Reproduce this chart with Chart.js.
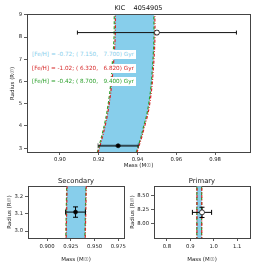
<!DOCTYPE html>
<html>
<head>
<meta charset="utf-8">
<script src="https://cdn.jsdelivr.net/npm/chart.js@4.4.0/dist/chart.umd.min.js"></script>
<style>
body { margin: 0; background: #fff; width: 258px; height: 263px; overflow: hidden; position: relative; font-family: "DejaVu Sans"; }
canvas { position: absolute; }
#main { left: 0; top: 0; }
#secondary { left: 0; top: 172px; }
#primary { left: 129px; top: 172px; }
.feh { position: absolute; left: 30px; height: 9px; background: #fff; font-size: 5.7px; line-height: 9px; padding: 0 2px; white-space: pre; }
</style>
</head>
<body>
<canvas id="main" width="258" height="172"></canvas>
<canvas id="secondary" width="129" height="91"></canvas>
<canvas id="primary" width="129" height="91"></canvas>
<script>
// values
var starTitle = 'KIC    4054905';

// isochrone edges: mass (Msun) at each radius (Rsun)
var isoRadius = [2.8, 3.0, 3.5, 4.0, 4.5, 5.0, 5.5, 6.0, 6.5, 7.0, 7.5, 8.0, 8.5, 9.0];
var blueLeft   = [0.9194, 0.9201, 0.9217, 0.9231, 0.9243, 0.9252, 0.9260, 0.9266, 0.9271, 0.9276, 0.9279, 0.9282, 0.9283, 0.9283];
var blueRight  = [0.9395, 0.9402, 0.9420, 0.9434, 0.9450, 0.9460, 0.9468, 0.9474, 0.9478, 0.9482, 0.9485, 0.9487, 0.9487, 0.9486];
var redLeft    = [0.9196, 0.9203, 0.9219, 0.9233, 0.9245, 0.9254, 0.9262, 0.9268, 0.9273, 0.9278, 0.9282, 0.9285, 0.9286, 0.9286];
var redRight   = [0.9397, 0.9404, 0.9422, 0.9437, 0.9453, 0.9463, 0.9471, 0.9477, 0.9481, 0.9485, 0.9488, 0.9490, 0.9490, 0.9489];
var greenLeft  = [0.9192, 0.9199, 0.9214, 0.9228, 0.9240, 0.9249, 0.9257, 0.9263, 0.9268, 0.9271, 0.9276, 0.9279, 0.9280, 0.9280];
var greenRight = [0.9393, 0.9400, 0.9418, 0.9432, 0.9448, 0.9458, 0.9466, 0.9472, 0.9476, 0.9480, 0.9483, 0.9485, 0.9485, 0.9484];

// legend text of the three isochrone sets
var fehValues = [-0.72, -1.02, -0.42];
var ageLow    = [7.150, 6.320, 8.700];
var ageHigh   = [7.700, 6.820, 9.400];
var isoColors = ['#87ceeb', '#d62728', '#2ca02c'];

// the two stars: [primary, secondary]
var starNames     = ['Primary', 'Secondary'];
var starMass      = [0.95, 0.93];
var starMassErr   = [0.041, 0.0104];
var starRadius    = [8.2, 3.11];
var starRadiusErr = [0.09, 0.03];

// ticks
var mainXTicks = [0.90, 0.92, 0.94, 0.96, 0.98];
var mainYTicks = [3, 4, 5, 6, 7, 8, 9];
var secXTicks  = [0.900, 0.925, 0.950, 0.975];
var secYTicks  = [3.0, 3.1, 3.2];
var priXTicks  = [0.8, 0.9, 1.0, 1.1];
var priYTicks  = [8.00, 8.25, 8.50];

Chart.defaults.font.family = 'DejaVu Sans';
Chart.defaults.color = '#222';

var spineColor = '#444';

function toPoints(masses) {
    return isoRadius.map(function (r, i) { return {x: masses[i], y: r}; });
}

function isochroneDatasets() {
    var poly = toPoints(blueLeft);
    for (var i = isoRadius.length - 1; i >= 0; i--) {
        poly.push({x: blueRight[i], y: isoRadius[i]});
    }
    var ds = [{
        data: poly, showLine: true, fill: 'shape', backgroundColor: isoColors[0],
        borderColor: 'rgba(0,0,0,0)', borderWidth: 0, pointRadius: 0, order: 6
    }];
    var curves = [[greenLeft, isoColors[2], [3, 2]], [greenRight, isoColors[2], [3, 2]],
                  [redLeft, isoColors[1], [3, 1.5, 1, 1.5]], [redRight, isoColors[1], [3, 1.5, 1, 1.5]]];
    curves.forEach(function (c, k) {
        ds.push({
            data: toPoints(c[0]), showLine: true, fill: false, borderColor: c[1],
            borderWidth: 1.2, borderDash: c[2], pointRadius: 0, order: k < 2 ? 5 : 4
        });
    });
    return ds;
}

function errorBars(i, st) {
    var m = starMass[i], r = starRadius[i];
    var common = {
        showLine: true, fill: false, borderColor: st.color, borderWidth: st.width,
        pointStyle: 'line', pointRadius: st.cap, pointBorderColor: st.capColor,
        pointBorderWidth: 1, order: 2
    };
    return [
        Object.assign({data: [{x: m - starMassErr[i], y: r}, {x: m + starMassErr[i], y: r}], pointRotation: 90}, common),
        Object.assign({data: [{x: m, y: r - starRadiusErr[i]}, {x: m, y: r + starRadiusErr[i]}], pointRotation: 0}, common)
    ];
}

function marker(i, fillColor, radius) {
    return {
        data: [{x: starMass[i], y: starRadius[i]}], showLine: false,
        pointRadius: radius, pointBackgroundColor: fillColor, pointBorderColor: '#111',
        pointBorderWidth: 0.8, order: 1
    };
}

function axis(min, max, ticks, dec, label, size, titlePad, tickPad) {
    var horizontal = size.h !== undefined;
    return {
        type: 'linear', min: min, max: max,
        afterBuildTicks: function (s) { s.ticks = ticks.map(function (v) { return {value: v}; }); },
        afterFit: function (s) { if (horizontal) s.height = size.h; else s.width = size.w; },
        ticks: { font: {size: 5.3}, padding: tickPad, maxRotation: 0, autoSkip: false,
                 callback: function (v) { return v.toFixed(dec); } },
        grid: { drawOnChartArea: false, drawTicks: true, tickLength: 3, color: '#333', lineWidth: 0.8 },
        border: { display: true, color: spineColor, width: 1 },
        title: { display: true, text: label, font: {size: 5.5}, padding: titlePad }
    };
}

function frame(ax, pos) {
    return {
        axis: ax, position: pos, type: 'linear', min: 0, max: 1,
        ticks: {display: false}, grid: {display: false},
        border: {display: true, color: spineColor, width: 1},
        afterFit: function (s) { if (ax === 'x') s.height = 0; else s.width = 0; }
    };
}

function makeChart(id, datasets, title, titleSize, titlePad, pad, xAxis, yAxis) {
    return new Chart(document.getElementById(id), {
        type: 'scatter',
        data: { datasets: datasets },
        options: {
            responsive: false, animation: false, events: [], devicePixelRatio: 1,
            layout: { padding: pad },
            plugins: {
                legend: {display: false}, tooltip: {enabled: false},
                title: { display: true, text: title, fullSize: false, color: '#111',
                         font: {size: titleSize, weight: 'normal'}, padding: titlePad }
            },
            scales: { x: xAxis, y: yAxis, xTop: frame('x', 'top'), yRight: frame('y', 'right') }
        }
    });
}

var massLabel = 'Mass (M\u2609)';
var radiusLabel = 'Radius (R\u2609)';

// main panel
var mainSets = isochroneDatasets()
    .concat(errorBars(0, {color: '#111', width: 1, cap: 2, capColor: '#111'}))
    .concat(errorBars(1, {color: 'rgba(0,0,0,0.65)', width: 2, cap: 2.5, capColor: 'rgba(0,0,0,0.5)'}))
    .concat([marker(0, '#fff', 2.5), marker(1, '#000', 2)]);
makeChart('main', mainSets, starTitle, 6.5, {top: 4, bottom: 3}, {left: 0, right: 8, top: 0, bottom: 0},
    axis(0.883, 0.998, mainXTicks, 2, massLabel, {h: 20}, {top: 0, bottom: 2.7}, 1.5),
    axis(2.83, 9.0, mainYTicks, 0, radiusLabel, {w: 27}, {top: 9.7, bottom: 0}, 2));

// secondary panel
var secSets = isochroneDatasets()
    .concat(errorBars(1, {color: '#000', width: 1, cap: 2.5, capColor: '#000'}))
    .concat([marker(1, '#000', 2)]);
makeChart('secondary', secSets, starNames[1], 6.8, {top: 5, bottom: 1}, {left: 0, right: 5, top: 0, bottom: 0},
    axis(0.88, 0.981, secXTicks, 3, massLabel, {h: 25}, {top: 0, bottom: 0}, 2),
    axis(2.96, 3.26, secYTicks, 1, radiusLabel, {w: 28}, {top: 6, bottom: 0}, 2));

// primary panel
var priSets = isochroneDatasets()
    .concat(errorBars(0, {color: '#000', width: 1, cap: 2.5, capColor: '#000'}))
    .concat([marker(0, '#fff', 2.5)]);
makeChart('primary', priSets, starNames[0], 6.8, {top: 5, bottom: 1}, {left: 0, right: 8, top: 0, bottom: 0},
    axis(0.745, 1.155, priXTicks, 1, massLabel, {h: 25}, {top: 0, bottom: 0}, 2),
    axis(7.75, 8.66, priYTicks, 2, radiusLabel, {w: 25}, {top: 0, bottom: 0}, 2));

// [Fe/H] boxes
var boxTops = [50, 64, 77];
fehValues.forEach(function (feh, i) {
    var el = document.createElement('div');
    el.className = 'feh';
    el.style.top = boxTops[i] + 'px';
    el.style.color = isoColors[i];
    el.textContent = '[Fe/H] = ' + feh.toFixed(2) + '; ( ' + ageLow[i].toFixed(3) + ',   ' + ageHigh[i].toFixed(3) + ') Gyr';
    document.body.appendChild(el);
});
</script>
</body>
</html>
